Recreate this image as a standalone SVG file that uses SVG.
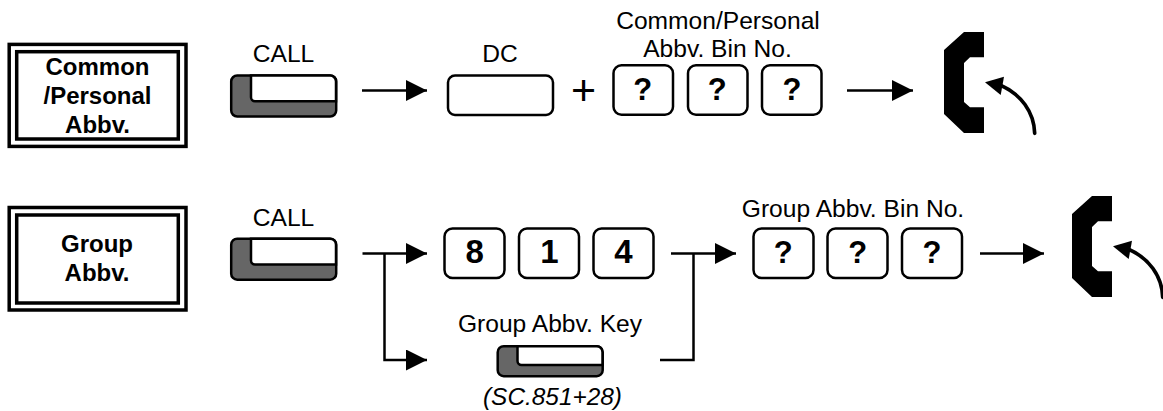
<svg xmlns="http://www.w3.org/2000/svg" width="1163" height="411" viewBox="0 0 1163 411">
<style>
text{font-family:"Liberation Sans",Arial,sans-serif;fill:#000;text-anchor:middle}
.l{font-size:24.6px}
.p{font-size:43px}
.t{font-size:24px;font-weight:bold}
.q{font-size:31px;font-weight:bold}
.n{font-size:33px;font-weight:bold}
.i{font-size:24.4px;font-style:italic}
.f{fill:none;stroke:#000;stroke-width:3.5}
.k{fill:#fff;stroke:#000;stroke-width:2.5}
.d{fill:#666;stroke:#000;stroke-width:2.5}
.w{fill:#fff;stroke:#000;stroke-width:2.5}
.c{fill:none;stroke:#000;stroke-width:2.5}
</style>
<defs>
<marker id="a" markerUnits="userSpaceOnUse" markerWidth="22" markerHeight="22" refX="21" refY="10.5" orient="auto"><path d="M0 0L21 10.5L0 21Z" fill="#000"/></marker>
<g id="key"><rect class="d" x="1.2" y="1.2" width="105" height="41" rx="6"/><path class="w" d="M21 1.2H100a6 6 0 0 1 6 6V27H25a4 4 0 0 1-4-4Z"/></g>
<g id="skey"><rect class="d" x="1.2" y="1.2" width="105" height="30" rx="6"/><path class="w" d="M21 1.2H100a6 6 0 0 1 6 6V20H25a4 4 0 0 1-4-4Z"/></g>
<g id="phone"><path d="M20 0H40V25.300H26L20 31V70L26 75.300H40V101H20L0 82V18Z" fill="#000"/></g>
<g id="back"><path d="M90.700 101.300C90 80 77 62 56 53" fill="none" stroke="#000" stroke-width="3.700" stroke-linecap="round"/><path d="M41 50.300L60 44.700L56.700 63Z" fill="#000"/></g>
</defs>
<g id="connectors">
<path class="c" d="M362 90.500H427" marker-end="url(#a)"/>
<path class="c" d="M847 90.500H913" marker-end="url(#a)"/>
<path class="c" d="M362.500 253.500H427" marker-end="url(#a)"/>
<path class="c" d="M384.500 253.500V360H427" marker-end="url(#a)"/>
<path class="c" d="M671 253.500H736" marker-end="url(#a)"/>
<path class="c" d="M660 360H693.500V253.500"/>
<path class="c" d="M980 253.500H1044" marker-end="url(#a)"/>
</g>
<g id="common-personal-abbv">
<rect class="f" x="9.200" y="44.400" width="176.800" height="102"/><rect class="f" x="16.700" y="51.700" width="161.600" height="87.300"/>
<text class="t" x="97.500" y="75">Common</text><text class="t" x="97.500" y="104">/Personal</text><text class="t" x="97.500" y="133">Abbv.</text>
</g>
<g id="group-abbv">
<rect class="f" x="9.200" y="207.500" width="176.800" height="102.500"/><rect class="f" x="16.700" y="215" width="161.600" height="88"/>
<text class="t" x="97" y="252">Group</text><text class="t" x="97" y="281">Abbv.</text>
</g>
<g id="call-1"><text class="l" x="283.500" y="62">CALL</text><use href="#key" x="230" y="74.300"/></g>
<g id="call-2"><text class="l" x="283.500" y="225.500">CALL</text><use href="#key" x="230" y="237.500"/></g>
<g id="dc"><text class="l" x="500" y="62">DC</text><rect class="k" x="448" y="75.500" width="105" height="39.500" rx="7"/></g>
<text class="p" x="583.500" y="105">+</text>
<g id="common-bin">
<text class="l" x="718" y="28.500">Common/Personal</text><text class="l" x="717.500" y="57">Abbv. Bin No.</text>
<rect class="k" x="613.500" y="65.300" width="59.500" height="49.500" rx="8"/><text class="q" x="642.700" y="99.500">?</text>
<rect class="k" x="688" y="65.300" width="59.500" height="49.500" rx="8"/><text class="q" x="717.300" y="99.500">?</text>
<rect class="k" x="762" y="65.300" width="59.500" height="49.500" rx="8"/><text class="q" x="792" y="99.500">?</text>
</g>
<g id="digits">
<rect class="k" x="444.500" y="228.500" width="60" height="49.500" rx="8"/><text class="n" x="474.700" y="263">8</text>
<rect class="k" x="519" y="228.500" width="60" height="49.500" rx="8"/><text class="n" x="549.500" y="263">1</text>
<rect class="k" x="593.500" y="228.500" width="60" height="49.500" rx="8"/><text class="n" x="623.500" y="263">4</text>
</g>
<g id="group-bin">
<text class="l" x="853" y="217">Group Abbv. Bin No.</text>
<rect class="k" x="753.500" y="228.500" width="60" height="49.500" rx="8"/><text class="q" x="783.300" y="262.700">?</text>
<rect class="k" x="827.500" y="228.500" width="60" height="49.500" rx="8"/><text class="q" x="857.700" y="262.700">?</text>
<rect class="k" x="902" y="228.500" width="60" height="49.500" rx="8"/><text class="q" x="932" y="262.700">?</text>
</g>
<g id="group-key"><text class="l" x="550" y="331.700">Group Abbv. Key</text><use href="#skey" x="496.500" y="345"/><text class="i" x="552.500" y="405">(SC.851+28)</text></g>
<g id="phone-1"><use href="#phone" x="944" y="32"/><use href="#back" x="944" y="32"/></g>
<g id="phone-2"><use href="#phone" x="1072" y="196"/><use href="#back" x="1072" y="196"/></g>
</svg>
